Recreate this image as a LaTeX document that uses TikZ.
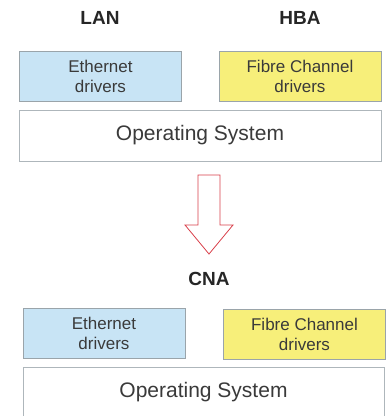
\documentclass[tikz,border=0pt]{standalone}
\usepackage{fontspec}
\setmainfont{Liberation Sans}
\usepackage{xcolor}
\usepackage{tikz}
\usetikzlibrary{positioning}
\definecolor{ethblue}{HTML}{C8E4F5}
\definecolor{fcyellow}{HTML}{F7EF7A}
\definecolor{boxgray}{HTML}{9AA4AA}
\definecolor{txtgray}{HTML}{3A3A3A}
\definecolor{arrowred}{HTML}{D9404A}

\begin{document}
\begin{tikzpicture}[x=1pt, y=-1pt,
	every node/.style={text=txtgray},
	head/.style={font=\fontsize{19}{20}\selectfont\bfseries, text=black!85},
	drvbox/.style={draw=boxgray, line width=0.8pt, minimum width=162pt, minimum height=50pt, align=center, font=\fontsize{17}{20}\selectfont},
	osbox/.style={draw=boxgray!80, line width=0.8pt, fill=white, minimum width=362pt, minimum height=51pt, font=\fontsize{21}{22}\selectfont}]
			\clip (0,0) rectangle (387,416);
			\fill[white] (0,0) rectangle (387,416);
			%% before
			\node[head] (lan) at (100, 18) {LAN};
			\node[head] (hba) at (300, 18) {HBA};
			\node[drvbox, fill=ethblue] (eth1) at (100.5, 76) {Ethernet\\drivers};
			\node[drvbox, fill=fcyellow] (fc1) at (300, 76.5) {Fibre Channel\\drivers};
			\node[osbox] (os1) at (200, 135.5) {Operating System};
			
			%% arrow
			\coordinate (arrowtop) at (209, 175);
			\draw[arrowred, line width=0.8pt, fill=white] (arrowtop) ++(-11,0) -- ++(22,0) -- ++(0,50) -- ++(13,0) -- ++(-24,29) -- ++(-24,-29) -- ++(13,0) -- cycle;
			
			%% after
			\node[head] (cna) at (209, 279) {CNA};
			\node[drvbox, fill=ethblue] (eth2) at (104, 333) {Ethernet\\drivers};
			\node[drvbox, fill=fcyellow] (fc2) at (304.5, 334) {Fibre Channel\\drivers};
			\node[osbox, minimum width=361pt] (os2) at (203.5, 392.5) {Operating System};
\end{tikzpicture}
\end{document}
